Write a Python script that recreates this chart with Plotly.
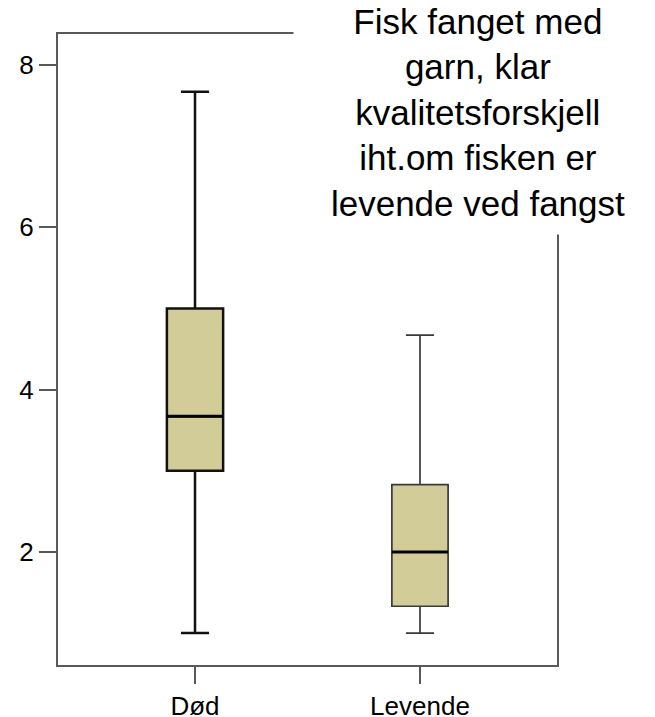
import plotly.graph_objects as go

# ---- data ----
categories = ["Død", "Levende"]
lower_whisker = [1.0, 1.0]
q1_values = [3.0, 1.33]
median_values = [3.67, 2.0]
q3_values = [5.0, 2.83]
upper_whisker = [7.67, 4.67]
y_tick_values = [2, 4, 6, 8]
y_tick_labels = ["2", "4", "6", "8"]
caption = "Fisk fanget med<br>garn, klar<br>kvalitetsforskjell<br>iht.om fisken er<br>levende ved fangst"

FONT = "Liberation Sans, Arial, sans-serif"
FILL = "#D2CD98"
AXIS = "#595959"
BOX_W = 0.25
line_colors = ["#111111", "#3a3a3a"]
line_widths = [2.5, 1.7]

fig = go.Figure()
for i, cat in enumerate(categories):
    fig.add_trace(go.Box(
        x=[i], q1=[q1_values[i]], median=[median_values[i]], q3=[q3_values[i]],
        lowerfence=[lower_whisker[i]], upperfence=[upper_whisker[i]],
        width=BOX_W, whiskerwidth=0.5, fillcolor=FILL,
        line=dict(color=line_colors[i], width=line_widths[i]),
        boxpoints=False, name=cat, showlegend=False, hoverinfo="skip",
    ))
    # thick median line
    fig.add_trace(go.Scatter(
        x=[i - BOX_W / 2, i + BOX_W / 2], y=[median_values[i], median_values[i]],
        mode="lines", line=dict(color="black", width=3),
        showlegend=False, hoverinfo="skip",
    ))

fig.update_layout(
    width=655, height=717,
    margin=dict(l=58, r=98, t=34, b=52, autoexpand=False),
    plot_bgcolor="white", paper_bgcolor="white",
    font=dict(family=FONT, color="black", size=26),
    showlegend=False,
)
fig.update_xaxes(
    range=[-0.609, 1.609], tickmode="array", tickvals=list(range(len(categories))),
    ticktext=categories, showgrid=False, zeroline=False, automargin=False,
    showline=True, mirror=True, linecolor=AXIS, linewidth=2,
    ticks="outside", ticklen=17, tickwidth=2, tickcolor=AXIS,
    tickfont=dict(size=26, color="black", family=FONT),
)
fig.update_yaxes(
    range=[0.606, 8.382], tickmode="array", tickvals=y_tick_values,
    ticktext=y_tick_labels, showgrid=False, zeroline=False, automargin=False,
    showline=True, mirror=True, linecolor=AXIS, linewidth=2,
    ticks="outside", ticklen=17, tickwidth=2, tickcolor=AXIS,
    tickfont=dict(size=26, color="black", family=FONT),
)

fig.add_annotation(
    text=caption, xref="paper", yref="paper",
    x=(478 - 58) / 499, y=(665 - 235) / 631,
    xanchor="center", yanchor="bottom",
    width=368, height=244, borderpad=0,
    bgcolor="white", showarrow=False, align="center", valign="middle",
    font=dict(size=35, color="black", family=FONT),
)

fig.write_html(
    "out.html",
    config={"displayModeBar": False, "staticPlot": True},
    post_script="document.body.style.margin='0';document.body.style.padding='0';",
)
